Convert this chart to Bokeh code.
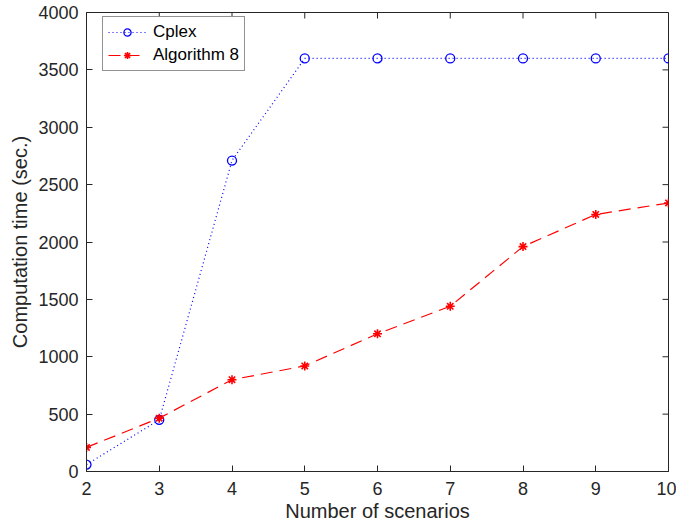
import math
from bokeh.plotting import figure
from bokeh.models import Legend, LegendItem, FixedTicker, Range1d
from bokeh.embed import file_html
from bokeh.resources import INLINE

scenarios = [2, 3, 4, 5, 6, 7, 8, 9, 10]
cplex = [60, 450, 2710, 3600, 3600, 3600, 3600, 3600, 3600]
algo8 = [210, 465, 800, 920, 1200, 1440, 1960, 2240, 2340]
x_ticks = [2, 3, 4, 5, 6, 7, 8, 9, 10]
y_ticks = [0, 500, 1000, 1500, 2000, 2500, 3000, 3500, 4000]

FONT = "Liberation Sans"
AX = "#262626"

p = figure(frame_width=582, frame_height=459, output_backend="svg", toolbar_location=None,
           x_range=Range1d(2, 10), y_range=Range1d(0, 4000),
           min_border_left=86, min_border_right=8, min_border_top=12, min_border_bottom=0,
           x_axis_label="Number of scenarios", y_axis_label="Computation time (sec.)")
p.grid.visible = False
p.outline_line_color = AX
p.outline_line_width = 1

for ax in (p.xaxis[0], p.yaxis[0]):
    ax.axis_line_color = AX
    ax.major_tick_line_color = AX
    ax.major_tick_in = 6
    ax.major_tick_out = 0
    ax.minor_tick_line_color = None
    ax.major_label_text_font = FONT
    ax.major_label_text_font_size = "18px"
    ax.major_label_text_color = AX
    ax.axis_label_text_font = FONT
    ax.axis_label_text_font_size = "20px"
    ax.axis_label_text_font_style = "normal"
    ax.axis_label_text_color = AX
p.xaxis[0].ticker = FixedTicker(ticks=x_ticks)
p.yaxis[0].ticker = FixedTicker(ticks=y_ticks)
p.xaxis[0].major_label_standoff = 10
p.xaxis[0].axis_label_standoff = 2
p.yaxis[0].major_label_standoff = 8
p.yaxis[0].axis_label_standoff = 4

# box ticks on top and right edges (MATLAB "box on")
p.ray(x=x_ticks, y=[y_ticks[-1]] * len(x_ticks), length=6, length_units="screen",
      angle=-math.pi / 2, line_color=AX, line_width=1)
p.ray(x=[x_ticks[-1]] * len(y_ticks), y=y_ticks, length=6, length_units="screen",
      angle=math.pi, line_color=AX, line_width=1)

l1 = p.line(scenarios, cplex, line_color="#0000ff", line_dash="1 3", line_width=1.2)
m1 = p.scatter(scenarios, cplex, marker="circle", size=9, fill_color=None,
               line_color="#0000ff", line_width=1.3)
l2 = p.line(scenarios, algo8, line_color="#ff0000", line_dash="12 7", line_width=1.2)
m2 = p.scatter(scenarios, algo8, marker="asterisk", size=9,
               line_color="#ff0000", line_width=1.6)

legend = Legend(items=[LegendItem(label="Cplex", renderers=[l1, m1]),
                       LegendItem(label="Algorithm 8", renderers=[l2, m2])],
                location=(16, 400))
legend.label_text_font = FONT
legend.label_text_font_size = "17px"
legend.label_text_color = "#000000"
legend.glyph_width = 38
legend.glyph_height = 18
legend.label_height = 18
legend.label_standoff = 7
legend.spacing = 3
legend.padding = 5
legend.margin = 0
legend.border_line_color = AX
legend.border_line_width = 1
p.add_layout(legend)

open("out.html", "w").write(file_html(p, INLINE))
